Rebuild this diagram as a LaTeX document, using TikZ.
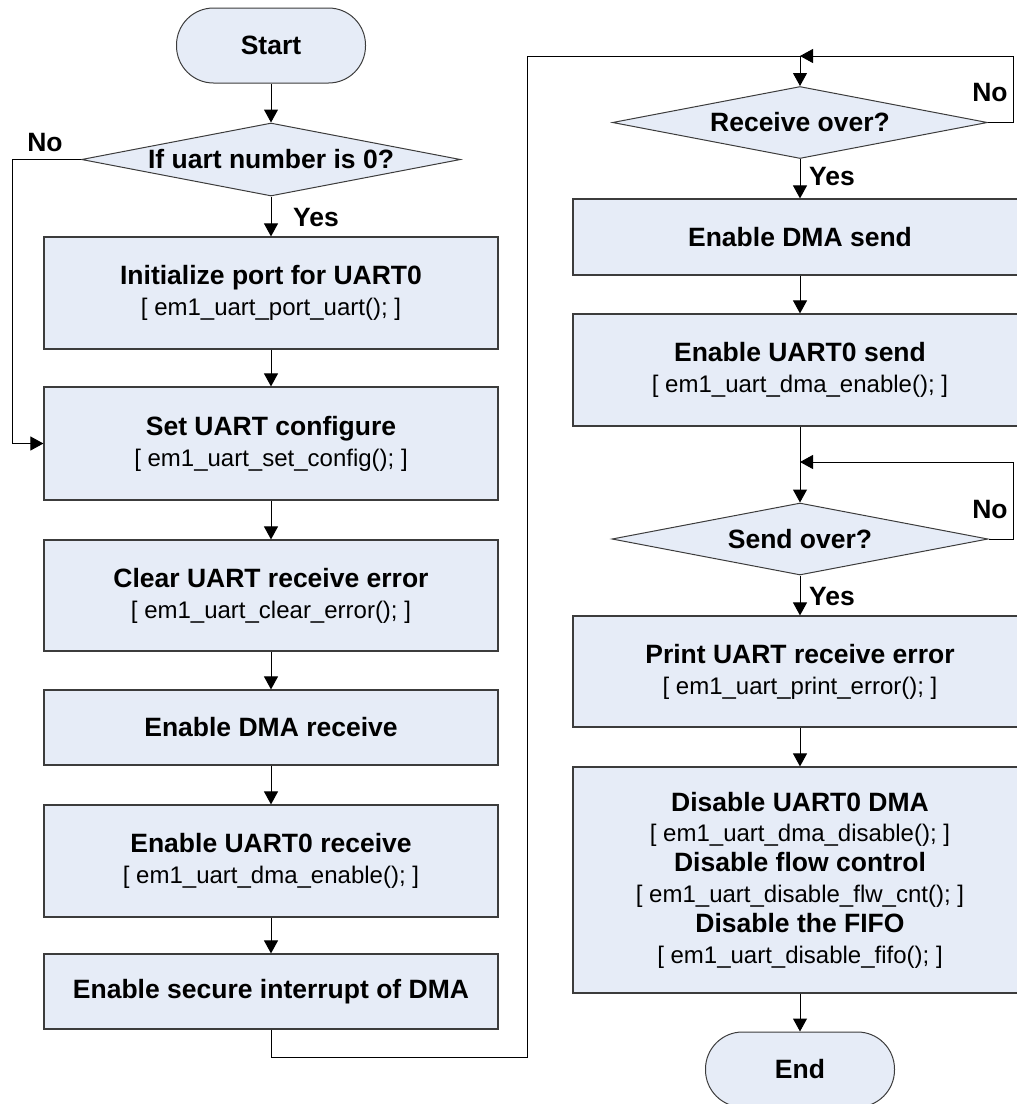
\documentclass[tikz,border=0pt]{standalone}
\usepackage{fontspec}
\setmainfont{Liberation Sans}
\usetikzlibrary{arrows.meta,shapes.geometric,shadows}

\definecolor{boxfill}{RGB}{230,236,247}
\definecolor{boxline}{RGB}{60,60,60}

% code line under a bold step title
\newcommand\cd[1]{{\fontsize{24}{31}\selectfont\mdseries[ #1 ]}}

\begin{document}
\begin{tikzpicture}[x=1pt,y=-1pt,
  titlefont/.style={font=\fontsize{26.5}{31}\selectfont\bfseries},
  stepbox/.style={rectangle,draw=boxline,line width=1.2pt,fill=boxfill,
    minimum width=454pt,inner sep=0pt,align=center,titlefont,
    drop shadow={shadow xshift=1.3pt,shadow yshift=-1.3pt,fill=black!55,opacity=1}},
  rbox/.style={stepbox,minimum width=454pt},
  term/.style={rectangle,rounded corners=37pt,draw=boxline,line width=1pt,
    fill=boxfill,minimum width=189pt,minimum height=75pt,inner sep=0pt,titlefont},
  decision/.style={diamond,draw=boxline,line width=1pt,fill=boxfill,
    inner sep=0pt,titlefont},
  lbl/.style={titlefont,inner sep=0pt},
  conn/.style={draw=black,line width=1pt},
  arr/.style={conn,-{Triangle[length=13pt,width=14pt]}}]

\useasboundingbox (0,0) rectangle (1017,1104);

% ---- left column ----
\node[term] (start) at (271,45.5) {Start};
\node[decision,minimum width=379pt,minimum height=73pt] (d1) at (271,159.5)
  {\makebox[0pt]{If uart number is 0?}};
\node[stepbox,minimum height=112pt] (b1) at (271,293)
  {Initialize port for UART0\\\cd{em1\_uart\_port\_uart();}};
\node[stepbox,minimum height=113pt] (b2) at (271,443.5)
  {Set UART configure\\\cd{em1\_uart\_set\_config();}};
\node[stepbox,minimum height=111pt] (b3) at (271,595.5)
  {Clear UART receive error\\\cd{em1\_uart\_clear\_error();}};
\node[stepbox,minimum height=75pt] (b4) at (271,727.5) {Enable DMA receive};
\node[stepbox,minimum height=112pt] (b5) at (271,861)
  {Enable UART0 receive\\\cd{em1\_uart\_dma\_enable();}};
\node[stepbox,minimum height=75pt] (b6) at (271,991.5) {Enable secure interrupt of DMA};

% ---- right column ----
\node[decision,minimum width=375pt,minimum height=72pt] (d2) at (800,122.5)
  {\makebox[0pt]{Receive over?}};
\node[rbox,minimum height=76pt] (ba) at (800,237) {Enable DMA send};
\node[rbox,minimum height=112pt] (bb) at (800,370)
  {Enable UART0 send\\\cd{em1\_uart\_dma\_enable();}};
\node[decision,minimum width=376pt,minimum height=72pt] (d3) at (800,539)
  {\makebox[0pt]{Send over?}};
\node[rbox,minimum height=111pt] (bc) at (800,671.5)
  {Print UART receive error\\\cd{em1\_uart\_print\_error();}};
\node[rbox,minimum height=226pt,font=\fontsize{26.5}{30.4}\selectfont\bfseries] (bd) at (800,880)
  {Disable UART0 DMA\\\cd{em1\_uart\_dma\_disable();}\\
   Disable flow control\\\cd{em1\_uart\_disable\_flw\_cnt();}\\
   Disable the FIFO\\\cd{em1\_uart\_disable\_fifo();}};
\node[term] (end) at (800,1069.5) {End};

% ---- branch labels ----
\node[lbl] (no1) at (45,143) {No};
\node[lbl] (yes1) at (316,218) {Yes};
\node[lbl] (no2) at (990,93) {No};
\node[lbl,anchor=west] (yes2) at (809,177) {Yes};
\node[lbl] (no3) at (990,510) {No};
\node[lbl,anchor=west] (yes3) at (809,597) {Yes};

% ---- bend points ----
\coordinate (nl) at (12,159.5);
\coordinate (lb) at (527,1057);
\coordinate (lt) at (527,56);
\coordinate (j1) at (800,56);
\coordinate (r1) at (1013,122.5);
\coordinate (j2) at (800,462);
\coordinate (r2) at (1013,539);

% ---- connectors, left column ----
\draw[arr] (start) -- (d1);
\draw[arr] (d1) -- (b1);
\draw[arr] (d1.west) -- (nl) |- (b2.west);
\draw[arr] (b1) -- (b2);
\draw[arr] (b2) -- (b3);
\draw[arr] (b3) -- (b4);
\draw[arr] (b4) -- (b5);
\draw[arr] (b5) -- (b6);

% ---- link to the second column ----
\draw[conn] (b6.south) |- (lb) -- (lt) -- (j1);
\draw[arr] (j1) -- (d2.north);
\draw[arr] (d2.east) -- (r1) |- (j1);

% ---- connectors, right column ----
\draw[arr] (d2) -- (ba);
\draw[arr] (ba) -- (bb);
\draw[arr] (bb) -- (d3);
\draw[arr] (d3.east) -- (r2) |- (j2);
\draw[arr] (d3) -- (bc);
\draw[arr] (bc) -- (bd);
\draw[arr] (bd) -- (end);
\end{tikzpicture}
\end{document}
